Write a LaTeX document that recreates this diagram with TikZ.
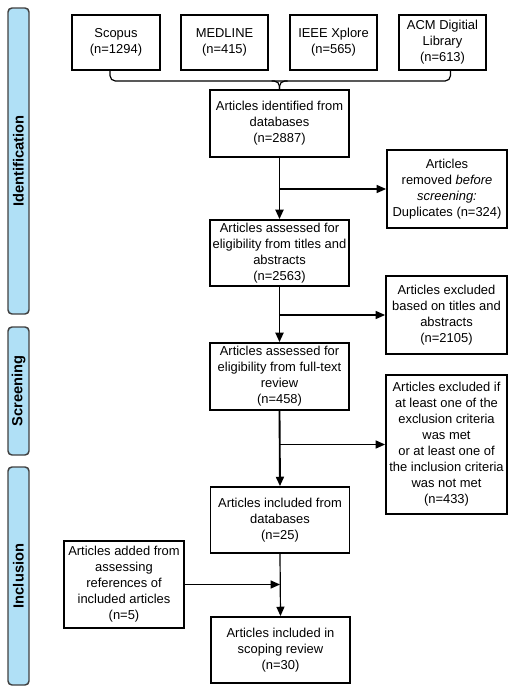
\documentclass[tikz,border=0pt]{standalone}
\usepackage{fontspec}
\setmainfont{Liberation Sans}
\usetikzlibrary{arrows.meta,calc}
\definecolor{phaseblue}{RGB}{176,224,246}

\begin{document}
\begin{tikzpicture}[x=0.75pt, y=-0.75pt,
  font=\fontsize{9.7}{12}\selectfont,
  box/.style={draw, line width=1.4pt, align=center, inner sep=1pt},
  phase/.style={draw=black!75, fill=phaseblue, line width=1.1pt, rounded corners=3pt, rotate=90,
    font=\fontsize{11}{13}\selectfont\bfseries, minimum height=15.75pt, inner sep=0pt},
  flow/.style={line width=1.4pt, -{Triangle[length=7pt,width=6pt]}},
  side/.style={line width=0.9pt, -{Triangle[length=7pt,width=6pt]}}]
\useasboundingbox (0,0) rectangle (514,693);

% phases
\node[phase, minimum width=229.5pt] (ident) at (18.5,161) {Identification};
\node[phase, minimum width=96pt] (screen) at (18.5,391) {Screening};
\node[phase, minimum width=163.5pt] (inclu) at (18.5,576) {Inclusion};

% databases
\foreach \n/\x/\t in {scopus/116/{Scopus\\(n=1294)}, medline/224.5/{MEDLINE\\(n=415)},
    ieee/333.5/{IEEE Xplore\\(n=565)}, acm/442.5/{ACM Digitial\\Library\\(n=613)}}
  \node[box, minimum width=65.5pt, minimum height=41.25pt] (\n) at (\x,42.5) {\t};

% main column
\node[box, minimum width=104.25pt, minimum height=50.25pt] (id) at (279.5,123.5)
  {Articles identified from\\databases\\(n=2887)};
\node[box, minimum width=104.25pt, minimum height=49.5pt] (assess) at (279.5,253)
  {Articles assessed for\\eligibility from titles and\\abstracts\\(n=2563)};
\node[box, minimum width=104.25pt, minimum height=50.25pt] (fulltext) at (279.5,376.5)
  {Articles assessed for\\eligibility from full-text\\review\\(n=458)};
\node[box, minimum width=104.25pt, minimum height=49.5pt] (incl) at (280,520)
  {Articles included from\\databases\\(n=25)};
\node[box, minimum width=104.25pt, minimum height=49.5pt] (final) at (280.5,650)
  {Articles included in\\scoping review\\(n=30)};

% side boxes
\node[box, minimum width=90pt, minimum height=58.5pt] (removed) at (447,189)
  {Articles\\removed \textit{before}\\\textit{screening:}\\Duplicates (n=324)};
\node[box, minimum width=90.75pt, minimum height=58.5pt] (extitle) at (446.5,315)
  {Articles excluded\\based on titles and\\abstracts\\(n=2105)};
\node[box, minimum width=90.75pt, minimum height=104.25pt] (excrit) at (446.5,444.5)
  {Articles excluded if\\at least one of the\\exclusion criteria\\was met\\or at least one of\\the inclusion criteria\\was not met\\(n=433)};
\node[box, minimum width=90pt, minimum height=65.25pt] (added) at (124,584.5)
  {Articles added from\\assessing\\references of\\included articles\\(n=5)};

% brace joining the databases
\coordinate (brace) at (279.5,81);
\draw[line width=0.9pt, rounded corners=4pt] ($(scopus.south)+(-6,0)$) |- (brace) -| ($(acm.south)+(8,0)$);
\draw[line width=0.9pt, rounded corners=4pt] ($(brace)+(-8,0)$) -| (id.north);
\draw[line width=0.9pt, rounded corners=4pt] ($(brace)+(8,0)$) -| (id.north);

% connectors
\draw[flow] (id.south) -- (assess.north);
\draw[side] (removed.west -| id.south) -- (removed.west);
\draw[flow] (assess.south) -- (fulltext.north);
\draw[side] (extitle.west -| assess.south) -- (extitle.west);
\draw[flow] (fulltext.south) -- (incl.north);
\draw[side] (excrit.west -| fulltext.south) -- (excrit.west);
\draw[side] (incl.south) -- (final.north);
\draw[side] (added.east) -- (added.east -| incl.south);
\end{tikzpicture}
\end{document}
